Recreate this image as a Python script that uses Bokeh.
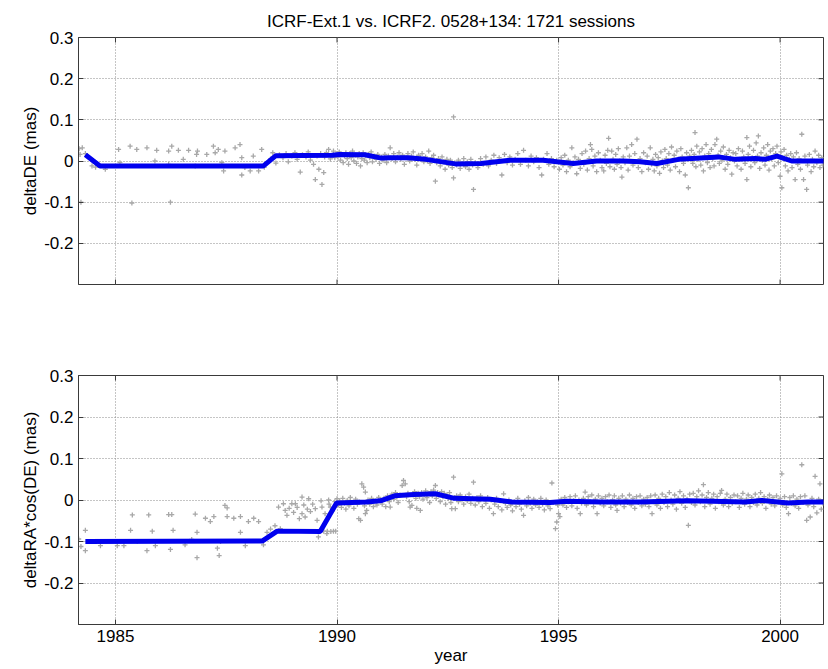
import math
from bokeh.plotting import figure
from bokeh.models import Range1d, FixedTicker, CustomJSTickFormatter
from bokeh.layouts import column
from bokeh.embed import file_html
from bokeh.resources import INLINE

TITLE = "ICRF-Ext.1 vs. ICRF2. 0528+134: 1721 sessions"
X_TICKS = [1985, 1990, 1995, 2000]
Y_TICKS = [-0.2, -0.1, 0.0, 0.1, 0.2, 0.3]
X_MIN, X_MAX = 1984.165, 2000.98
Y_MIN, Y_MAX = -0.3, 0.3

# ---- deltaDE per-session points (year, mas) ----
de_pts = [
 (1984.18,0.030),(1984.20,0.016),(1984.25,0.032),(1984.32,0.018),(1984.22,-0.100),(1984.47,-0.012),(1984.55,-0.015),(1984.77,-0.020),
 (1985.07,0.028),(1985.10,-0.004),(1985.33,0.036),(1985.37,-0.102),(1985.48,0.028),(1985.71,0.032),(1985.89,0.000),(1985.93,0.026),
 (1986.20,0.024),(1986.20,-0.008),(1986.24,-0.100),(1986.27,0.036),(1986.42,0.026),(1986.53,0.004),(1986.65,0.026),(1986.80,-0.012),
 (1986.83,0.016),(1986.85,0.024),(1987.06,0.016),(1987.21,0.036),(1987.25,0.020),(1987.32,0.028),(1987.40,-0.004),(1987.44,-0.024),
 (1987.47,0.024),(1987.70,0.032),(1987.81,0.040),(1987.85,0.008),(1987.85,-0.034),(1987.92,-0.016),(1988.04,-0.024),(1988.11,0.012),
 (1988.23,-0.024),(1988.30,0.028),(1988.36,-0.015),
 (1988.50,0.005),(1988.55,0.020),(1988.62,-0.005),(1988.70,0.015),(1988.78,0.008),(1988.85,0.018),(1988.90,-0.002),(1988.98,0.012),
 (1989.05,0.020),(1989.10,0.004),(1989.17,-0.027),(1989.22,0.015),(1989.30,0.010),(1989.35,0.022),(1989.40,0.002),(1989.47,-0.008),
 (1989.51,-0.045),(1989.55,0.012),(1989.59,-0.020),(1989.63,0.018),(1989.66,-0.057),(1989.70,-0.028),(1989.72,0.010),(1989.76,0.020),
 (1989.81,0.028),(1989.85,0.005),(1989.88,0.014),(1989.92,0.024),(1989.95,0.008),(1989.98,0.018),
 (1990.02,0.010),(1990.05,0.022),(1990.08,0.002),(1990.11,0.016),(1990.14,-0.004),(1990.17,0.012),(1990.20,0.020),(1990.23,0.006),
 (1990.26,-0.008),(1990.29,0.018),(1990.32,0.008),(1990.35,0.024),(1990.38,0.000),(1990.41,0.014),(1990.44,-0.006),(1990.47,0.010),
 (1990.50,0.018),(1990.53,-0.012),(1990.56,0.006),(1990.59,0.020),(1990.62,0.002),(1990.65,0.012),(1990.68,-0.004),(1990.71,0.016),
 (1990.74,0.008),(1990.77,0.022),(1990.80,-0.002),(1990.84,0.012),(1990.88,0.004),(1990.92,0.016),(1990.96,-0.006),
 (1991.00,0.010),(1991.04,0.002),(1991.08,0.016),(1991.12,-0.004),(1991.16,0.012),(1991.20,0.032),(1991.24,0.006),(1991.28,0.018),
 (1991.32,-0.002),(1991.36,0.010),(1991.40,0.020),(1991.44,0.004),(1991.48,0.014),(1991.52,-0.008),(1991.56,0.008),(1991.60,0.018),
 (1991.64,0.000),(1991.68,0.012),(1991.72,0.022),(1991.76,0.004),(1991.80,-0.010),(1991.84,0.014),(1991.88,0.006),(1991.92,0.018),
 (1991.96,-0.002),
 (1992.00,0.010),(1992.04,0.000),(1992.07,0.024),(1992.10,-0.006),(1992.14,0.008),(1992.18,0.014),(1992.22,-0.049),(1992.25,-0.004),
 (1992.29,0.006),(1992.33,-0.012),(1992.37,0.010),(1992.41,-0.002),(1992.44,-0.020),(1992.48,0.004),(1992.52,-0.010),(1992.56,0.002),
 (1992.60,-0.016),(1992.63,-0.041),(1992.63,0.107),(1992.66,-0.004),
 (1992.70,-0.010),(1992.74,0.002),(1992.78,-0.018),(1992.82,-0.006),(1992.86,0.006),(1992.90,-0.014),(1992.94,-0.002),(1992.98,-0.020),
 (1993.02,0.004),(1993.06,-0.010),(1993.08,-0.069),(1993.12,-0.004),(1993.18,-0.016),(1993.24,0.006),(1993.30,-0.008),(1993.36,0.010),
 (1993.42,-0.012),(1993.48,0.002),(1993.54,0.014),(1993.60,-0.006),(1993.66,0.008),(1993.72,-0.034),(1993.78,0.016),(1993.84,-0.004),
 (1993.90,0.010),(1993.96,-0.010),(1994.02,0.004),(1994.08,0.018),(1994.14,-0.008),(1994.21,0.026),(1994.26,0.002),(1994.32,-0.012),
 (1994.38,0.012),(1994.44,-0.002),(1994.50,0.008),(1994.56,-0.016),(1994.62,-0.034),(1994.66,0.004),(1994.74,0.018),(1994.78,-0.008),
 (1994.84,0.006),(1994.90,-0.014),(1994.96,0.002),
 (1995.02,-0.020),(1995.06,0.008),(1995.10,-0.010),(1995.14,0.014),(1995.18,-0.026),(1995.22,0.002),(1995.26,-0.014),(1995.30,0.032),
 (1995.33,-0.004),(1995.37,0.010),(1995.41,-0.031),(1995.45,0.004),(1995.49,-0.018),(1995.53,0.018),(1995.57,-0.008),(1995.61,0.024),
 (1995.65,-0.022),(1995.69,0.006),(1995.72,0.040),(1995.75,0.028),(1995.78,-0.012),(1995.82,0.012),(1995.86,-0.026),(1995.90,0.020),
 (1995.94,0.002),(1995.98,-0.016),
 (1996.02,-0.024),(1996.05,0.014),(1996.08,-0.006),(1996.11,0.026),(1996.13,0.055),(1996.16,-0.014),(1996.20,0.024),(1996.23,0.004),
 (1996.26,-0.020),(1996.29,0.016),(1996.32,-0.008),(1996.35,0.030),(1996.38,0.000),(1996.41,-0.016),(1996.43,-0.039),(1996.46,0.010),
 (1996.50,-0.004),(1996.54,0.032),(1996.57,-0.022),(1996.60,0.012),(1996.65,0.040),(1996.68,-0.010),(1996.72,0.018),(1996.77,0.053),
 (1996.80,-0.016),(1996.84,0.006),(1996.88,-0.026),(1996.92,0.020),(1996.96,-0.004),
 (1997.00,0.012),(1997.03,-0.020),(1997.07,0.032),(1997.10,-0.008),(1997.13,0.004),(1997.16,-0.024),(1997.19,0.016),(1997.22,-0.012),
 (1997.25,0.008),(1997.28,-0.030),(1997.31,0.022),(1997.34,0.000),(1997.37,-0.016),(1997.40,0.028),(1997.43,0.006),(1997.46,-0.010),
 (1997.49,0.018),(1997.52,-0.022),(1997.55,0.034),(1997.58,0.002),(1997.61,0.014),(1997.64,-0.014),(1997.67,0.024),(1997.70,0.004),
 (1997.73,-0.026),(1997.76,0.030),(1997.79,0.010),(1997.82,-0.006),(1997.86,-0.034),(1997.89,0.020),(1997.93,-0.065),(1997.96,0.012),
 (1998.00,0.026),(1998.03,-0.006),(1998.06,0.016),(1998.08,0.069),(1998.10,-0.014),(1998.12,0.036),(1998.15,0.004),(1998.18,0.022),
 (1998.21,-0.010),(1998.24,0.030),(1998.27,-0.024),(1998.30,0.012),(1998.33,0.040),(1998.36,-0.004),(1998.39,0.018),(1998.42,-0.016),
 (1998.45,0.028),(1998.48,0.006),(1998.51,-0.012),(1998.53,0.040),(1998.57,0.053),(1998.60,0.014),(1998.63,-0.006),(1998.66,0.024),
 (1998.69,0.002),(1998.72,0.034),(1998.76,-0.020),(1998.79,0.016),(1998.82,-0.008),(1998.85,0.026),(1998.88,0.008),(1998.91,-0.032),
 (1998.94,0.020),(1998.97,0.000),
 (1999.00,0.018),(1999.03,-0.012),(1999.06,0.030),(1999.09,0.004),(1999.12,-0.020),(1999.15,0.024),(1999.18,0.010),(1999.21,-0.006),
 (1999.25,0.057),(1999.25,-0.045),(1999.28,0.016),(1999.31,0.036),(1999.34,-0.014),(1999.37,0.008),(1999.40,0.026),(1999.43,-0.004),
 (1999.46,0.044),(1999.49,0.012),(1999.51,0.061),(1999.54,-0.018),(1999.57,0.020),(1999.60,0.002),(1999.63,0.032),(1999.66,-0.010),
 (1999.69,0.014),(1999.72,0.040),(1999.75,-0.022),(1999.78,0.024),(1999.81,0.006),(1999.84,0.030),(1999.87,-0.012),(1999.90,0.018),
 (1999.93,0.036),(1999.96,-0.004),
 (2000.00,-0.037),(2000.02,0.022),(2000.04,-0.065),(2000.06,0.008),(2000.09,0.028),(2000.12,-0.012),(2000.15,0.014),(2000.18,-0.024),
 (2000.21,0.004),(2000.24,0.018),(2000.27,-0.016),(2000.30,0.010),(2000.34,-0.045),(2000.37,0.020),(2000.40,-0.008),(2000.43,0.006),
 (2000.46,-0.020),(2000.49,0.065),(2000.53,-0.045),(2000.56,0.012),(2000.60,-0.069),(2000.62,-0.010),(2000.66,0.016),(2000.70,-0.026),
 (2000.73,0.004),(2000.76,-0.014),(2000.79,0.024),(2000.83,-0.004),(2000.87,0.014),(2000.90,-0.016),(2000.94,0.008),(2000.97,-0.010),
]
de_year = [p[0] for p in de_pts]
de_val = [p[1] for p in de_pts]

# ---- deltaRA*cos(DE) per-session points (year, mas) ----
ra_pts = [
 (1984.17,-0.094),(1984.22,-0.112),(1984.32,-0.073),(1984.32,-0.122),(1984.66,-0.110),(1985.04,-0.110),(1985.19,-0.110),(1985.34,-0.073),
 (1985.38,-0.036),(1985.49,-0.100),(1985.71,-0.122),(1985.75,-0.036),(1985.83,-0.075),(1985.90,-0.110),(1986.20,-0.035),(1986.27,-0.035),
 (1986.24,-0.119),(1986.30,-0.073),(1986.57,-0.108),(1986.72,-0.095),(1986.80,-0.034),(1986.84,-0.139),(1986.84,-0.078),(1987.03,-0.044),
 (1987.14,-0.052),(1987.22,-0.040),(1987.30,-0.116),(1987.34,-0.134),(1987.37,-0.100),(1987.47,-0.013),(1987.52,-0.019),(1987.52,-0.040),
 (1987.67,-0.044),(1987.82,-0.040),(1987.82,-0.078),(1987.93,-0.110),(1988.00,-0.052),(1988.12,-0.044),(1988.23,-0.052),(1988.34,-0.108),
 (1988.42,-0.078),(1988.50,-0.070),(1988.60,-0.062),(1988.68,-0.017),(1988.72,-0.069),(1988.79,-0.009),(1988.83,-0.025),(1988.87,-0.037),
 (1988.92,-0.020),(1988.98,-0.009),(1989.02,-0.030),(1989.06,-0.009),(1989.10,-0.018),(1989.15,-0.045),(1989.21,0.007),(1989.21,-0.033),
 (1989.25,-0.012),(1989.28,-0.041),(1989.33,-0.022),(1989.36,0.003),(1989.40,-0.028),(1989.45,-0.010),(1989.51,-0.021),(1989.55,-0.049),
 (1989.58,-0.089),(1989.62,-0.075),(1989.64,-0.002),(1989.66,-0.017),(1989.70,-0.075),(1989.73,-0.033),(1989.77,-0.081),(1989.78,-0.075),
 (1989.81,0.000),(1989.82,-0.010),(1989.85,-0.017),(1989.86,-0.076),(1989.90,-0.026),(1989.92,-0.075),(1989.95,-0.004),(1989.97,-0.075),
 (1990.00,0.003),(1990.03,-0.012),(1990.06,-0.002),(1990.10,-0.018),(1990.13,0.004),(1990.17,-0.008),(1990.20,-0.022),(1990.23,-0.001),
 (1990.27,-0.014),(1990.30,0.006),(1990.34,-0.006),(1990.38,-0.020),(1990.42,0.002),(1990.46,-0.010),(1990.49,-0.045),(1990.50,-0.005),
 (1990.53,-0.049),(1990.56,0.039),(1990.60,0.031),(1990.62,-0.014),(1990.64,0.019),(1990.64,-0.033),(1990.67,-0.025),(1990.70,0.000),
 (1990.74,-0.010),(1990.78,0.004),(1990.82,-0.016),(1990.86,-0.002),(1990.90,-0.012),(1990.94,0.006),(1990.98,-0.001),
 (1991.02,-0.010),(1991.06,0.004),(1991.10,-0.016),(1991.14,0.010),(1991.18,-0.004),(1991.20,-0.017),(1991.24,0.014),(1991.28,0.002),
 (1991.32,0.018),(1991.35,0.007),(1991.38,-0.006),(1991.42,0.012),(1991.47,0.035),(1991.50,0.047),(1991.54,0.039),(1991.57,0.008),
 (1991.60,0.016),(1991.63,-0.004),(1991.65,-0.017),(1991.69,-0.013),(1991.72,0.012),(1991.75,0.020),(1991.78,0.004),(1991.80,-0.020),
 (1991.83,0.016),(1991.86,0.008),(1991.88,-0.025),(1991.91,0.018),(1991.94,0.002),(1991.97,0.014),(1992.00,0.022),(1992.03,0.006),
 (1992.06,0.016),(1992.09,-0.006),(1992.12,0.020),(1992.15,0.010),(1992.18,0.024),(1992.22,0.035),(1992.24,0.004),(1992.27,0.018),
 (1992.30,0.012),(1992.33,-0.004),(1992.36,0.020),(1992.39,0.008),(1992.42,0.016),(1992.45,-0.010),(1992.48,0.012),(1992.51,0.004),
 (1992.54,0.018),(1992.57,-0.006),(1992.59,-0.021),(1992.63,0.055),(1992.65,0.006),(1992.67,-0.021),
 (1992.70,0.010),(1992.74,-0.004),(1992.78,0.012),(1992.82,0.000),(1992.86,-0.010),(1992.90,0.008),(1992.94,-0.002),(1992.98,0.014),
 (1993.02,-0.008),(1993.06,0.004),(1993.08,0.043),(1993.12,-0.012),(1993.16,0.006),(1993.20,-0.004),(1993.24,0.010),(1993.28,-0.016),
 (1993.32,0.002),(1993.36,-0.008),(1993.40,0.006),(1993.44,-0.020),(1993.48,0.000),(1993.53,-0.033),(1993.56,-0.010),(1993.60,0.004),
 (1993.64,-0.016),(1993.68,-0.002),(1993.72,-0.024),(1993.76,0.015),(1993.80,-0.008),(1993.84,-0.018),(1993.88,0.000),(1993.92,-0.012),
 (1993.96,-0.026),(1994.00,-0.004),(1994.04,-0.016),(1994.08,0.004),(1994.12,-0.010),(1994.16,-0.022),(1994.21,-0.037),(1994.24,-0.002),
 (1994.28,-0.014),(1994.32,0.006),(1994.36,-0.008),(1994.40,-0.020),(1994.44,0.002),(1994.48,-0.012),(1994.52,-0.004),(1994.56,-0.018),
 (1994.60,0.004),(1994.64,-0.010),(1994.68,-0.024),(1994.72,0.000),(1994.76,-0.014),(1994.81,-0.021),(1994.85,0.041),(1994.88,-0.006),
 (1994.93,-0.069),(1994.96,-0.053),(1994.98,-0.012),(1995.00,-0.033),
 (1995.03,-0.040),(1995.06,0.002),(1995.10,-0.012),(1995.14,0.006),(1995.18,-0.018),(1995.22,-0.004),(1995.26,0.008),(1995.30,-0.014),
 (1995.34,-0.002),(1995.38,0.010),(1995.42,-0.020),(1995.46,0.000),(1995.49,-0.033),(1995.52,-0.008),(1995.56,0.004),(1995.60,0.019),
 (1995.63,-0.012),(1995.67,0.008),(1995.71,-0.004),(1995.75,0.012),(1995.79,-0.016),(1995.83,0.002),(1995.87,-0.033),(1995.90,0.010),
 (1995.94,-0.008),(1995.98,0.004),(1996.02,-0.014),(1996.06,0.008),(1996.10,-0.004),(1996.14,0.012),(1996.18,-0.018),(1996.22,0.000),
 (1996.26,0.010),(1996.29,-0.012),(1996.32,-0.025),(1996.36,0.004),(1996.40,-0.008),(1996.44,0.010),(1996.48,-0.016),(1996.52,0.002),
 (1996.56,-0.006),(1996.60,0.012),(1996.64,-0.012),(1996.68,0.004),(1996.72,-0.020),(1996.76,0.008),(1996.80,-0.006),(1996.84,0.010),
 (1996.88,-0.014),(1996.92,0.002),(1996.96,-0.010),
 (1997.00,0.006),(1997.04,-0.016),(1997.08,0.010),(1997.11,-0.033),(1997.14,-0.004),(1997.18,0.012),(1997.22,-0.012),(1997.26,0.004),
 (1997.30,-0.020),(1997.34,0.014),(1997.38,-0.006),(1997.42,0.008),(1997.46,-0.016),(1997.50,0.018),(1997.54,0.000),(1997.58,-0.010),
 (1997.62,0.012),(1997.66,-0.022),(1997.70,0.004),(1997.74,0.020),(1997.78,-0.008),(1997.82,0.010),(1997.86,-0.018),(1997.90,0.002),
 (1997.93,-0.061),(1997.96,0.014),(1998.00,-0.006),(1998.04,0.016),(1998.08,-0.012),(1998.12,0.008),(1998.16,0.022),(1998.20,-0.004),
 (1998.24,0.012),(1998.27,0.037),(1998.30,-0.016),(1998.34,0.006),(1998.38,0.018),(1998.42,-0.010),(1998.46,0.004),(1998.50,0.014),
 (1998.54,-0.020),(1998.58,0.008),(1998.62,-0.004),(1998.65,0.016),(1998.68,0.023),(1998.72,-0.012),(1998.76,0.002),(1998.80,0.014),
 (1998.84,-0.016),(1998.88,0.006),(1998.92,-0.008),(1998.96,0.012),(1999.00,-0.004),(1999.04,0.010),(1999.08,-0.018),(1999.12,0.004),
 (1999.16,0.016),(1999.20,-0.010),(1999.24,0.002),(1999.28,0.012),(1999.32,-0.016),(1999.36,0.006),(1999.40,-0.006),(1999.44,0.014),
 (1999.48,-0.012),(1999.52,0.004),(1999.56,0.018),(1999.60,-0.008),(1999.64,0.008),(1999.68,-0.020),(1999.72,0.002),(1999.76,0.012),
 (1999.80,-0.010),(1999.84,0.006),(1999.88,-0.014),(1999.92,0.010),(1999.96,-0.004),(2000.00,0.004),(2000.04,0.063),(2000.06,-0.012),
 (2000.10,0.008),(2000.14,-0.018),(2000.19,-0.033),(2000.22,0.006),(2000.26,-0.008),(2000.30,0.010),(2000.34,-0.014),(2000.38,0.002),
 (2000.42,-0.020),(2000.46,0.008),(2000.49,0.085),(2000.52,-0.006),(2000.56,0.010),(2000.60,-0.049),(2000.63,-0.012),(2000.68,-0.041),
 (2000.72,0.004),(2000.76,-0.016),(2000.79,0.057),(2000.83,-0.031),(2000.87,0.002),(2000.90,0.039),(2000.93,-0.022),(2000.97,-0.008),
]
ra_year = [p[0] for p in ra_pts]
ra_val = [p[1] for p in ra_pts]

# ---- smoothed curves ----
de_line_year = [1984.32, 1984.65, 1988.34, 1988.62, 1989.89, 1990.05, 1990.63, 1991.00, 1991.23, 1991.60, 1992.00,
                1992.67, 1993.25, 1993.90, 1994.65, 1994.96, 1995.33, 1995.86, 1996.46, 1996.84, 1997.22, 1997.71,
                1998.61, 1998.99, 1999.44, 1999.66, 1999.93, 2000.26, 2001.00]
de_line_val = [0.015, -0.012, -0.012, 0.013, 0.014, 0.016, 0.015, 0.007, 0.008, 0.008, 0.004,
               -0.007, -0.006, 0.002, 0.002, -0.002, -0.006, 0.000, 0.000, -0.002, -0.006, 0.004,
               0.010, 0.004, 0.006, 0.004, 0.012, 0.000, 0.000]

ra_line_year = [1984.32, 1988.31, 1988.65, 1989.62, 1989.99, 1990.67, 1990.98, 1991.30, 1991.73, 1992.22, 1992.65,
                1993.46, 1993.95, 1994.81, 1995.19, 1995.94, 1996.84, 1997.90, 1998.46, 1999.21, 1999.59, 2000.18,
                2000.63, 2001.00]
ra_line_val = [-0.100, -0.099, -0.075, -0.076, -0.007, -0.005, -0.002, 0.010, 0.013, 0.015, 0.004,
               0.002, -0.005, -0.006, -0.003, -0.005, -0.005, -0.002, -0.003, -0.005, -0.001, -0.007,
               -0.005, -0.005]

FONT = "Liberation Sans"
FS = "17px"
AX = "#3a3a3a"
GRID = "#8a8a8a"


def style_axis(ax):
    ax.axis_line_color = AX
    ax.major_tick_line_color = AX
    ax.major_tick_in = 5
    ax.major_tick_out = 0
    ax.minor_tick_in = 0
    ax.minor_tick_out = 0
    ax.major_label_text_font = FONT
    ax.major_label_text_font_size = FS
    ax.major_label_text_color = "#000000"
    ax.axis_label_text_font = FONT
    ax.axis_label_text_font_size = FS
    ax.axis_label_text_font_style = "normal"
    ax.axis_label_text_color = "#000000"


def make_panel(years, vals, lyears, lvals, ylabel, height, top, bottom, show_x):
    p = figure(width=828, height=height, output_backend="svg", toolbar_location=None,
               x_range=Range1d(X_MIN, X_MAX), y_range=Range1d(Y_MIN, Y_MAX),
               min_border_left=78, min_border_right=5, min_border_top=top, min_border_bottom=bottom,
               background_fill_color="white", border_fill_color="white")
    xt = FixedTicker(ticks=X_TICKS)
    yt = FixedTicker(ticks=Y_TICKS)
    p.xaxis.ticker = xt
    p.yaxis.ticker = yt
    p.xaxis.formatter = CustomJSTickFormatter(code="return tick.toFixed(0);")
    p.yaxis.formatter = CustomJSTickFormatter(code="return Math.abs(tick) < 1e-9 ? '0' : tick.toFixed(1);")
    p.xgrid.ticker = xt
    p.ygrid.ticker = yt
    for g in (p.xgrid, p.ygrid):
        g.grid_line_color = GRID
        g.grid_line_dash = "1 2"
        g.grid_line_width = 1
    p.outline_line_color = AX
    style_axis(p.xaxis[0])
    style_axis(p.yaxis[0])
    p.yaxis.axis_label = ylabel
    p.yaxis.axis_label_standoff = 1
    p.yaxis.major_label_standoff = 5
    if show_x:
        p.xaxis.axis_label = "year"
        p.xaxis.axis_label_standoff = 1
        p.xaxis.major_label_standoff = 5
    else:
        p.xaxis.visible = False
        # inward tick marks on the bottom edge (no labels on the upper panel)
        p.scatter(X_TICKS, [Y_MIN] * len(X_TICKS), marker="dash", size=10, angle=math.pi / 2,
                  line_color=AX, line_width=1)

    # box ticks on the right and top edges (clipped to frame -> inward ticks)
    p.scatter([X_MAX] * len(Y_TICKS), Y_TICKS, marker="dash", size=10, line_color=AX, line_width=1)
    p.scatter(X_TICKS, [Y_MAX] * len(X_TICKS), marker="dash", size=10, angle=math.pi / 2,
              line_color=AX, line_width=1)

    p.scatter(years, vals, marker="cross", size=5, line_color="#a8a8a8", line_width=1.3)
    p.line(lyears, lvals, line_color="#0000ee", line_width=5)
    return p


p1 = make_panel(de_year, de_val, de_line_year, de_line_val, "deltaDE (mas)", 300, 37, 16, False)
p1.title.text = TITLE
p1.title.align = "center"
p1.title.text_font = FONT
p1.title.text_font_size = FS
p1.title.text_font_style = "normal"
p1.title.text_color = "#000000"
p1.title.standoff = 13

p2 = make_panel(ra_year, ra_val, ra_line_year, ra_line_val, "deltaRA*cos(DE) (mas)", 369, 75, 45, True)

layout = column(p1, p2, spacing=0)
open("out.html", "w").write(file_html(layout, INLINE))
